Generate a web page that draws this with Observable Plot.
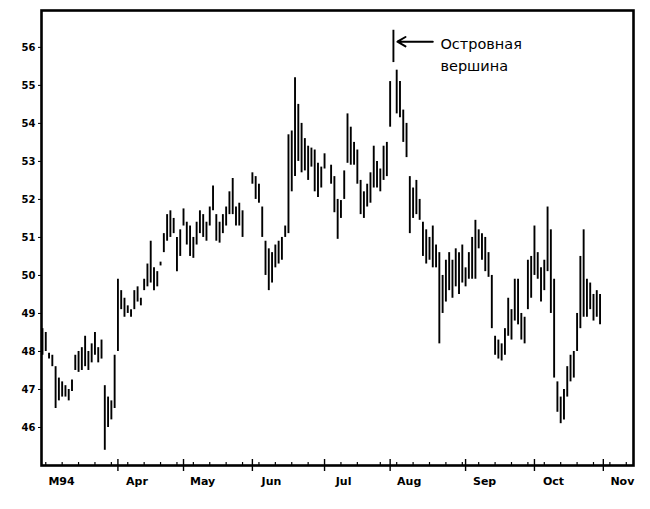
<!DOCTYPE html>
<html><head><meta charset="utf-8">
<script src="https://cdn.jsdelivr.net/npm/d3@7"></script>
<script src="https://cdn.jsdelivr.net/npm/@observablehq/plot@0.6"></script>
<style>body{margin:0;background:#fff}</style>
</head><body><div id="chart"></div>
<script>
// Daily bars, indexed by trading day from 1 March 1994
const highs = [
48.6,48.5,47.95,47.9,47.6,47.3,47.2,47.1,47.0,47.25,
47.9,48.0,48.1,48.4,48.0,48.2,48.5,48.1,48.3,47.1,
46.8,46.7,47.9,49.9,49.6,49.4,49.2,49.1,49.6,49.7,
49.4,49.9,50.3,50.9,50.2,50.1,50.35,51.1,51.6,51.7,
51.5,51.0,51.2,51.75,51.4,51.3,51.0,51.4,51.7,51.6,
51.4,51.8,52.35,51.6,51.4,51.6,51.8,52.2,52.55,51.8,
51.9,51.7,null,null,52.7,52.6,52.4,51.8,50.9,50.7,
50.6,50.8,50.9,51.0,51.3,53.7,53.8,55.2,54.5,54.0,
53.6,53.4,53.35,53.3,52.95,52.85,53.2,null,52.9,52.6,
52.0,51.97,52.75,54.25,53.9,53.5,53.3,52.5,52.2,52.4,
52.7,53.4,53.0,52.8,53.4,53.5,55.1,56.45,55.4,55.1,
54.35,54.0,52.6,52.3,52.5,52.0,51.4,51.2,51.0,51.3,
50.8,50.6,50.0,50.4,50.6,50.4,50.7,50.6,50.8,50.2,
50.6,51.0,51.45,51.2,51.1,51.0,50.6,50.0,48.4,48.3,
48.2,48.6,49.4,49.1,49.9,49.9,49.0,48.9,50.4,50.5,
51.3,50.6,50.2,50.4,51.8,51.2,49.9,47.2,46.8,47.0,
47.6,47.9,48.0,49.0,50.5,51.2,49.9,49.8,49.5,49.6,
49.5];
const lows = [
47.9,48.0,47.8,47.6,46.5,46.7,46.8,46.8,46.7,46.95,
47.5,47.45,47.5,47.6,47.5,47.7,47.9,47.7,47.8,45.4,
46.0,46.2,46.5,48.0,49.1,48.9,49.0,48.9,49.1,49.3,
49.2,49.6,49.7,49.8,49.6,49.7,50.25,50.6,50.9,51.0,
51.1,50.1,50.5,51.3,50.8,50.5,50.45,50.8,51.1,51.0,
50.9,51.3,51.7,50.9,50.85,51.1,51.3,51.6,51.6,51.3,
51.3,51.0,null,null,52.4,52.0,51.9,51.0,50.0,49.6,
49.8,50.2,50.3,50.4,51.0,51.1,52.2,52.6,53.0,52.7,
52.75,52.5,52.85,52.2,52.05,52.3,52.8,null,52.4,51.65,
50.95,51.5,52.0,52.95,52.9,52.9,52.4,51.6,51.5,51.8,
51.9,52.3,52.3,52.2,52.5,52.6,53.9,55.6,54.25,54.15,
53.5,53.1,51.1,51.5,51.6,51.45,50.5,50.3,50.4,50.2,
50.2,48.2,49.0,49.3,49.6,49.4,49.7,49.5,49.8,49.7,
49.9,49.9,49.9,50.7,50.4,50.1,49.95,48.6,47.9,47.8,
47.75,47.9,48.4,48.3,48.8,48.7,48.3,48.2,49.1,49.4,
50.0,49.9,49.3,49.6,50.1,49.0,47.3,46.4,46.1,46.2,
46.8,47.2,47.3,48.0,48.6,48.9,48.9,49.1,48.8,48.9,
48.7];
const monthStarts = [0, 23, 43, 64, 86, 106, 129, 150, 171];
const monthLabels = ["M94", "Apr", "May", "Jun", "Jul", "Aug", "Sep", "Oct", "Nov"];
const yTicks = [46, 47, 48, 49, 50, 51, 52, 53, 54, 55, 56];
const islandIndex = 107;
const annotation = "Островная\nвершина";

const bars = highs.map((h, i) => ({i, high: h, low: lows[i]})).filter(d => d.high != null);
const labelPos = monthStarts.map(m => m + 5.8);
const labelMap = new Map(labelPos.map((p, k) => [p, monthLabels[k]]));
const weekTicks = d3.range(1, 100, 5).concat(d3.range(103, 180, 5)).filter(t => !monthStarts.includes(t));
const island = [{i: islandIndex, y: highs[islandIndex] - 0.3}];

const chart = Plot.plot({
  width: 650, height: 509,
  marginLeft: 41, marginRight: 17, marginTop: 10, marginBottom: 44,
  style: {fontFamily: "DejaVu Sans", color: "#000", background: "#fff"},
  x: {domain: [-0.3, 180.2]},
  y: {domain: [45, 56.97]},
  marks: [
    Plot.ruleX(bars, {x: "i", y1: "low", y2: "high", stroke: "#000", strokeWidth: 1.9}),
    Plot.ruleX(weekTicks, {x: d => d, insetTop: 452, insetBottom: -1, stroke: "#000", strokeWidth: 1.2}),
    Plot.ruleX(monthStarts.filter(m => m > 0), {x: d => d, insetTop: 449, insetBottom: -6, stroke: "#000", strokeWidth: 1.4}),
    Plot.frame({stroke: "#000", strokeWidth: 2.6}),
    Plot.axisY(yTicks, {label: null, tickSize: 3, tickPadding: 3, fontWeight: "bold", fontSize: 10}),
    Plot.axisX(labelPos, {label: null, tickSize: 0, tickPadding: 12, tickFormat: d => labelMap.get(d), fontWeight: "bold", fontSize: 11}),
    Plot.arrow(island, {x1: d => d.i + 12, x2: "i", y1: "y", y2: "y", insetEnd: 4, stroke: "#000", strokeWidth: 2, headLength: 7}),
    Plot.text(island, {x: "i", y: "y", text: () => annotation, dx: 47, dy: -8, textAnchor: "start", lineAnchor: "top", lineHeight: 1.52, fontSize: 14.5, fill: "#000"})
  ]
});
document.getElementById("chart").appendChild(chart);
</script>
</body></html>
